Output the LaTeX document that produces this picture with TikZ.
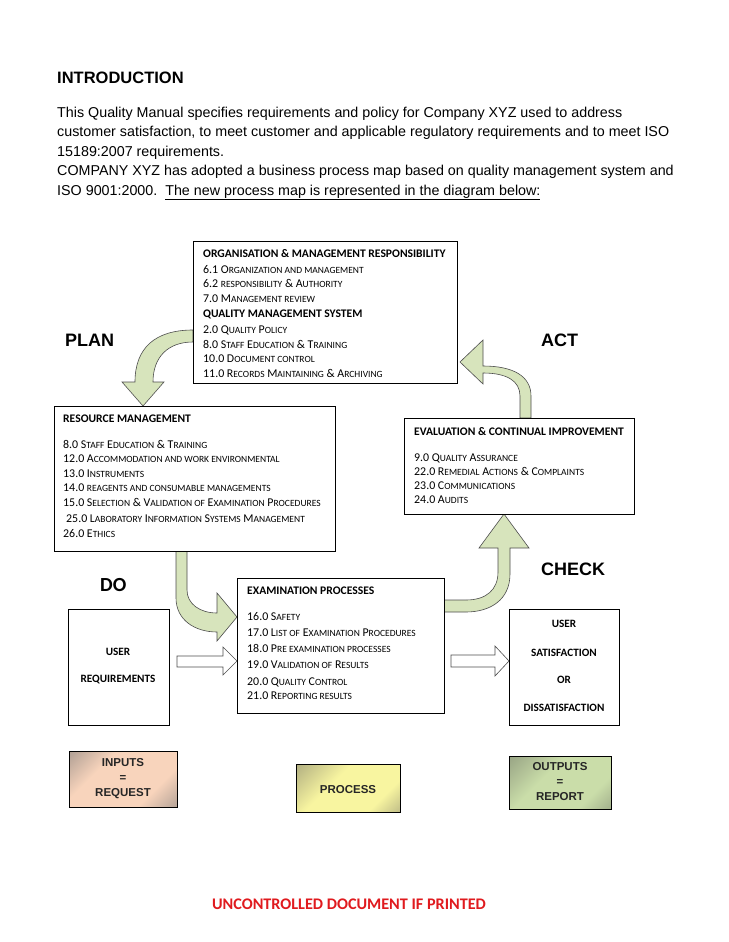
\documentclass[tikz,border=0pt]{standalone}
\usepackage{fontspec}
\setmainfont{Liberation Sans}
\newfontfamily\calfont{Carlito}
\usetikzlibrary{calc}
\definecolor{gfill}{HTML}{D7E4BC}
\definecolor{gline}{HTML}{4D4D4D}
\definecolor{redtxt}{HTML}{E01A1E}
\definecolor{ingray}{HTML}{7D7A78}
\definecolor{inpeach}{HTML}{F8D4BC}
\definecolor{prgray}{HTML}{8A8870}
\definecolor{pryel}{HTML}{F8F5A0}
\definecolor{outgray}{HTML}{7C8570}
\definecolor{outgreen}{HTML}{CADDA9}
\pgfdeclarehorizontalshading{inshade}{100bp}{color(0bp)=(ingray); color(35bp)=(inpeach); color(68bp)=(inpeach); color(100bp)=(ingray)}
\pgfdeclarehorizontalshading{prshade}{100bp}{color(0bp)=(prgray); color(40bp)=(pryel); color(70bp)=(pryel); color(100bp)=(prgray)}
\pgfdeclarehorizontalshading{outshade}{100bp}{color(0bp)=(outgray); color(40bp)=(outgreen); color(70bp)=(outgreen); color(100bp)=(outgray)}
\newcommand\sm[1]{{\fontsize{9.5}{11}\selectfont\uppercase{#1}}}
\tikzset{
 box/.style={draw=black, line width=0.7pt, fill=white, inner sep=0pt, anchor=north west},
 hd/.style={inner sep=0pt, anchor=base west, font=\calfont\bfseries\fontsize{11.6}{13}\selectfont},
 it/.style={inner sep=0pt, anchor=base west, font=\calfont\fontsize{11.9}{13}\selectfont},
 big/.style={inner sep=0pt, anchor=base west, font=\bfseries\fontsize{18}{20}\selectfont},
 lbl/.style={inner sep=0pt, anchor=base, font=\calfont\bfseries\fontsize{11.2}{13}\selectfont},
 body/.style={inner sep=0pt, anchor=base west, font=\fontsize{14.3}{16}\selectfont},
 garrow/.style={fill=gfill, draw=gline, line width=0.6pt},
 warrow/.style={fill=white, draw=gline, line width=0.6pt},
 gbox/.style={draw=black, line width=0.6pt, anchor=north west, inner sep=0pt, shading angle=-45},
 gtxt/.style={inner sep=0pt, anchor=base, font=\bfseries\fontsize{11.5}{13}\selectfont, text=black!85},
}
\begin{document}
\begin{tikzpicture}[x=1pt,y=-1pt]
\useasboundingbox (0,0) rectangle (728,942);
\fill[white] (0,0) rectangle (728,942);

% intro text
\node[body, font=\bfseries\fontsize{16.5}{18}\selectfont] (intro) at (57,84) {INTRODUCTION};
\node[body] (p1) at (57,117) {This Quality Manual specifies requirements and policy for Company XYZ used to address};
\node[body] (p2) at (57,136.5) {customer satisfaction, to meet customer and applicable regulatory requirements and to meet ISO};
\node[body] (p3) at (57,156) {15189:2007 requirements.};
\node[body] (p4) at (57,175.5) {COMPANY XYZ has adopted a business process map based on quality management system and};
\node[body] (p5) at (57,195) {ISO 9001:2000.\ \ \underline{The new process map is represented in the diagram below:}};

% green curved arrows
\draw[garrow] (193,330) .. controls (155,330) and (135,348) .. (135,382) -- (122,382) -- (143,406) -- (164,382) -- (153,382) .. controls (153,357) and (168,342) .. (193,342) -- cycle;
\draw[garrow] (520,418) -- (520,396) .. controls (520,381) and (507,373) .. (483,373) -- (483,384) -- (460,362) -- (483,340) -- (483,366) .. controls (513,366) and (531,376) .. (531,396) -- (531,418) -- cycle;
\draw[garrow] (176,551) -- (176,598) .. controls (176,620) and (195,632) .. (217,632) -- (217,641) -- (237,617) -- (217,593) -- (217,613) .. controls (200,613) and (187,604) .. (187,590) -- (187,551) -- cycle;
\draw[garrow] (444,600) -- (466,600) .. controls (486,600) and (498,590) .. (498,572) -- (498,548) -- (479,548) -- (504,514) -- (529,548) -- (510,548) -- (510,574) .. controls (510,600) and (490,612) .. (466,612) -- (444,612) -- cycle;

% white arrows
\draw[warrow] (177,656) -- (223,656) -- (223,647) -- (237,661) -- (223,675) -- (223,667) -- (177,667) -- cycle;
\draw[warrow] (451,655) -- (495,655) -- (495,646) -- (509,661) -- (495,676) -- (495,667) -- (451,667) -- cycle;

% ORG box
\node[box, minimum width=264pt, minimum height=142pt] (org) at (193,241) {};
\node[hd] (o0) at (203,257) {ORGANISATION \& MANAGEMENT RESPONSIBILITY};
\node[it] (o1) at (203,273) {6.1 O\sm{rganization and management}};
\node[it] (o2) at (203,287) {6.2 \sm{responsibility} \& A\sm{uthority}};
\node[it] (o3) at (203,302) {7.0 M\sm{anagement review}};
\node[hd] (o4) at (203,317) {QUALITY MANAGEMENT SYSTEM};
\node[it] (o5) at (203,333) {2.0 Q\sm{uality} P\sm{olicy}};
\node[it] (o6) at (203,348) {8.0 S\sm{taff} E\sm{ducation} \& T\sm{raining}};
\node[it] (o7) at (203,362) {10.0 D\sm{ocument control}};
\node[it] (o8) at (203,377) {11.0 R\sm{ecords} M\sm{aintaining} \& A\sm{rchiving}};

% labels
\node[big] (plan) at (65,346) {PLAN};
\node[big] (act) at (541,346) {ACT};
\node[big] (check) at (541,575) {CHECK};
\node[inner sep=0pt, anchor=base west, font=\calfont\bfseries\fontsize{20}{22}\selectfont] (do) at (100,591) {DO};

% RESOURCE box
\node[box, minimum width=281pt, minimum height=145pt] (res) at (54,406) {};
\node[hd] (r0) at (63,422) {RESOURCE MANAGEMENT};
\node[it] (r1) at (63,448) {8.0 S\sm{taff} E\sm{ducation} \& T\sm{raining}};
\node[it] (r2) at (63,462) {12.0 A\sm{ccommodation and work environmental}};
\node[it] (r3) at (63,477) {13.0 I\sm{nstruments}};
\node[it] (r4) at (63,491) {14.0 \sm{reagents and consumable managements}};
\node[it] (r5) at (63,506) {15.0 S\sm{election} \& V\sm{alidation of} E\sm{xamination} P\sm{rocedures}};
\node[it] (r6) at (66,522) {25.0 L\sm{aboratory} I\sm{nformation} S\sm{ystems} M\sm{anagement}};
\node[it] (r7) at (63,537) {26.0 E\sm{thics}};

% EVAL box
\node[box, minimum width=230pt, minimum height=96pt] (eva) at (404,418) {};
\node[hd] (e0) at (414,435) {EVALUATION \& CONTINUAL IMPROVEMENT};
\node[it] (e1) at (414,461) {9.0 Q\sm{uality} A\sm{ssurance}};
\node[it] (e2) at (414,475) {22.0 R\sm{emedial} A\sm{ctions} \& C\sm{omplaints}};
\node[it] (e3) at (414,489) {23.0 C\sm{ommunications}};
\node[it] (e4) at (414,503) {24.0 A\sm{udits}};

% EXAM box
\node[box, minimum width=207pt, minimum height=135pt] (exa) at (237,578) {};
\node[hd] (x0) at (247,594) {EXAMINATION PROCESSES};
\node[it] (x1) at (247,620) {16.0 S\sm{afety}};
\node[it] (x2) at (247,636) {17.0 L\sm{ist of} E\sm{xamination} P\sm{rocedures}};
\node[it] (x3) at (247,652) {18.0 P\sm{re examination processes}};
\node[it] (x4) at (247,668) {19.0 V\sm{alidation of} R\sm{esults}};
\node[it] (x5) at (247,685) {20.0 Q\sm{uality} C\sm{ontrol}};
\node[it] (x6) at (247,699) {21.0 R\sm{eporting results}};

% USER boxes
\node[box, minimum width=101pt, minimum height=116pt] (ureq) at (68,609) {};
\node[lbl] (u1) at (118,655) {USER};
\node[lbl] (u2) at (118,682) {REQUIREMENTS};
\node[box, minimum width=110pt, minimum height=116pt] (usat) at (509,609) {};
\node[lbl] (s1) at (564,627) {USER};
\node[lbl] (s2) at (564,656) {SATISFACTION};
\node[lbl] (s3) at (564,683) {OR};
\node[lbl] (s4) at (564,711) {DISSATISFACTION};

% gradient boxes
\node[gbox, shading=inshade, minimum width=108pt, minimum height=56pt] (inp) at (69,751) {};
\node[gtxt] (i1) at (123,766) {INPUTS};
\node[gtxt] (i2) at (123,781) {=};
\node[gtxt] (i3) at (123,796) {REQUEST};
\node[gbox, shading=prshade, minimum width=104pt, minimum height=48pt] (pro) at (296,764) {};
\node[gtxt] (pr) at (348,793) {PROCESS};
\node[gbox, shading=outshade, minimum width=102pt, minimum height=53pt] (out) at (509,756) {};
\node[gtxt] (o1b) at (560,770) {OUTPUTS};
\node[gtxt] (o2b) at (560,785) {=};
\node[gtxt] (o3b) at (560,800) {REPORT};

% footer
\node[inner sep=0pt, anchor=base, font=\calfont\bfseries\fontsize{16.2}{18}\selectfont, text=redtxt] (foot) at (349,909) {UNCONTROLLED DOCUMENT IF PRINTED};
\end{tikzpicture}
\end{document}
